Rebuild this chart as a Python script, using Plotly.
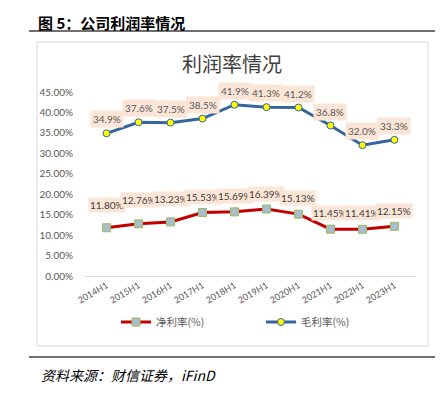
import plotly.graph_objects as go

categories = ["2014H1", "2015H1", "2016H1", "2017H1", "2018H1", "2019H1", "2020H1", "2021H1", "2022H1", "2023H1"]
gross_margin = [34.9, 37.6, 37.5, 38.5, 41.9, 41.3, 41.2, 36.8, 32.0, 33.3]
net_margin = [11.80, 12.76, 13.23, 15.53, 15.69, 16.39, 15.13, 11.45, 11.41, 12.15]
y_ticks = [0, 5, 10, 15, 20, 25, 30, 35, 40, 45]

# page has an 8px body margin; work in window pixel coordinates
OX, OY = 8, 8
W, H = 447 - OX, 393 - OY
PL, PR, PT, PB = 85, 416, 92, 276  # plot area in window pixels
L, R, T, B = PL - OX, (447 - PR), PT - OY, (393 - PB)
pw, ph = W - L - R, H - T - B

def px(x):
    return (x - OX - L) / pw

def py(y):
    return (H - B - (y - OY)) / ph

NUM_FONT = "Lato, Noto Sans CJK SC"
CJK = "Noto Sans CJK SC"

fig = go.Figure()
fig.add_trace(go.Scatter(
    x=categories, y=[v / 100 for v in net_margin], name="净利率(%)",
    mode="lines+markers", legend="legend",
    line=dict(color="#C00000", width=3),
    marker=dict(symbol="square", size=8, color="#A9BCD0", line=dict(color="#9BBB59", width=1)),
))
fig.add_trace(go.Scatter(
    x=categories, y=[v / 100 for v in gross_margin], name="毛利率(%)",
    mode="lines+markers", legend="legend2",
    line=dict(color="#35649E", width=3),
    marker=dict(symbol="circle", size=7, color="#FFFF00", line=dict(color="#35649E", width=1)),
))

annotations = []
for i, (c, v) in enumerate(zip(categories, gross_margin)):
    annotations.append(dict(
        x=c, y=v / 100, xref="x", yref="y", text=f"{v:.1f}%", showarrow=False,
        yshift=14, font=dict(family=NUM_FONT, size=10, color="#595959"),
        bgcolor="#FBE5D6", borderpad=2,
    ))
net_shift = [23, 24, 23, 16, 16, 15, 16, 16, 16, 15]
for i, (c, v) in enumerate(zip(categories, net_margin)):
    annotations.append(dict(
        x=c, y=v / 100, xref="x", yref="y", text=f"{v:.2f}%", showarrow=False,
        yshift=net_shift[i], font=dict(family=NUM_FONT, size=10, color="#404040"),
        bgcolor="#FBE5D6", borderpad=1,
    ))

# page title, chart title, source
annotations.append(dict(x=px(36), y=py(10), xref="paper", yref="paper", xanchor="left", yanchor="top",
                        text="<b>图 5：公司利润率情况</b>", showarrow=False,
                        font=dict(family=CJK, size=15, color="#000000")))
annotations.append(dict(x=px(232), y=py(63), xref="paper", yref="paper", xanchor="center", yanchor="middle",
                        text="利润率情况", showarrow=False,
                        font=dict(family=CJK, size=20, color="#404040")))
annotations.append(dict(x=px(39), y=py(375), xref="paper", yref="paper", xanchor="left", yanchor="middle",
                        text="<i>资料来源：财信证券，iFinD</i>", showarrow=False,
                        font=dict(family=CJK, size=14, color="#000000")))

shapes = [
    dict(type="line", xref="paper", yref="paper", x0=px(29), x1=px(435), y0=py(31), y1=py(31),
         line=dict(color="#404040", width=1.5)),
    dict(type="rect", xref="paper", yref="paper", x0=px(37), x1=px(428), y0=py(42), y1=py(346),
         line=dict(color="#D9D9D9", width=1), layer="below"),
    dict(type="line", xref="paper", yref="paper", x0=px(29), x1=px(435), y0=py(357), y1=py(357),
         line=dict(color="#404040", width=1.5)),
]

legend_common = dict(orientation="h", yanchor="middle", xanchor="left", y=py(322),
                     font=dict(family=CJK, size=10.5, color="#595959"),
                     bgcolor="rgba(0,0,0,0)", borderwidth=0, itemwidth=30)

fig.update_layout(
    width=W, height=H,
    margin=dict(l=L, r=R, t=T, b=B, autoexpand=False),
    paper_bgcolor="white", plot_bgcolor="white",
    showlegend=True,
    legend=dict(x=px(116), **legend_common),
    legend2=dict(x=px(261), **legend_common),
    xaxis=dict(type="category", tickangle=-30, showgrid=False, showline=True,
               linecolor="#D9D9D9", linewidth=1, ticks="", automargin=False,
               tickfont=dict(family=NUM_FONT, size=9, color="#595959")),
    yaxis=dict(range=[0, 0.45], tickvals=[t / 100 for t in y_ticks], automargin=False,
               ticktext=[f"{t:.2f}%" for t in y_ticks], showgrid=False, zeroline=False,
               showline=False, ticks="", ticklabelstandoff=11,
               tickfont=dict(family=NUM_FONT, size=10, color="#595959")),
    annotations=annotations,
    shapes=shapes,
)

fig.write_html("out.html")
